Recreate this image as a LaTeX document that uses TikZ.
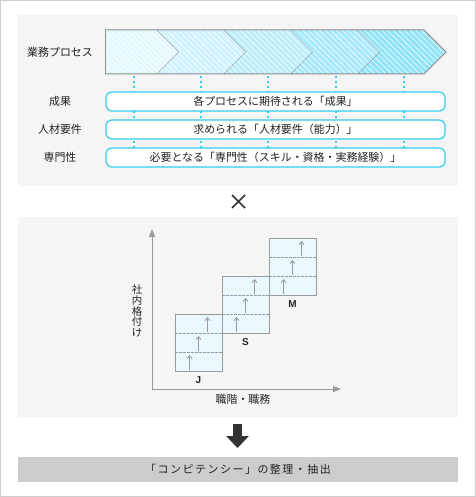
\documentclass[tikz,border=0pt]{standalone}
\usepackage{fontspec}
\setmainfont{Noto Sans CJK JP}
\newfontfamily\latinbold{Liberation Sans}
\usepackage{tikz}
\usetikzlibrary{arrows.meta}
\usetikzlibrary{patterns.meta}
\definecolor{frameline}{HTML}{CCCCCC}
\definecolor{panelfill}{HTML}{F5F5F5}
\definecolor{procline}{HTML}{8C8C8C}
\definecolor{procA}{HTML}{E2F8FD}
\definecolor{procB}{HTML}{CFF3FC}
\definecolor{procC}{HTML}{BBEEFB}
\definecolor{procD}{HTML}{A6E9FA}
\definecolor{procE}{HTML}{90E3F9}
\definecolor{rowline}{HTML}{33CCEE}
\definecolor{gradefill}{HTML}{E8F8FC}
\definecolor{gradeline}{HTML}{999999}
\definecolor{darkmark}{HTML}{333333}
\definecolor{textcol}{HTML}{222222}
\definecolor{barfill}{HTML}{CCCCCC}
\newcommand{\procstep}[4]{
  \fill[fill=#3, postaction={pattern={Lines[angle=-45,distance=4bp,line width=0.6bp]}, pattern color=white}] ( #1 , 30 ) -- ( #2 , 30 ) -- ( #2+22 , 52 ) -- ( #2 , 74 ) -- ( #1 , 74 ) -- ( #1+#4 , 52 ) -- cycle;
  \draw[draw=procline, line width=1bp] ( #1 , 30 ) -- ( #2 , 30 ) -- ( #2+22 , 52 ) -- ( #2 , 74 ) -- ( #1 , 74 );}
\newcommand{\grade}[4]{
  \draw[gradebox] ( #1 , #2 ) rectangle ( #1+47 , #2+57 );
  \draw[gradedash] ( #1 , #2+19 ) -- ( #1+47 , #2+19 );
  \draw[gradedash] ( #1 , #2+38 ) -- ( #1+47 , #2+38 );
  \draw[uparrow] ( #1+14.5 , #2+56 ) -- ( #1+14.5 , #2+41 );
  \draw[uparrow] ( #1+23.5 , #2+37 ) -- ( #1+23.5 , #2+22 );
  \draw[uparrow] ( #1+32.5 , #2+18 ) -- ( #1+32.5 , #2+3 );
  \node[gradelbl] (#4) at ( #1+23.5 , #2+66 ) {#3};}
\tikzset{
  lbl/.style={text=textcol, font=\fontsize{11}{13}\selectfont, inner sep=0pt},
  rowbox/.style={draw=rowline, line width=1.2bp, fill=white, rounded corners=6bp, minimum width=339bp, minimum height=19bp, inner sep=0pt, text=textcol, font=\fontsize{11}{13}\selectfont},
  dotline/.style={rowline, line width=2bp, dash pattern=on 2bp off 3bp},
  gradebox/.style={draw=gradeline, fill=gradefill, line width=0.8bp},
  gradedash/.style={gradeline, line width=0.8bp, dash pattern=on 2.5bp off 1.5bp},
  uparrow/.style={gradeline, line width=0.8bp, -{Straight Barb[length=3bp,width=5bp]}},
  gradelbl/.style={text=textcol, font=\latinbold\bfseries\fontsize{10}{12}\selectfont, inner sep=0pt},
  axis/.style={gradeline, line width=1bp, -{Triangle[length=8bp,width=6bp]}},
  bigarrow/.style={darkmark, line width=9bp, -{Triangle[length=12bp,width=22bp]}},
}
\begin{document}
\begin{tikzpicture}[x=1bp,y=-1bp]
        \useasboundingbox (0,0) rectangle (476,497);
        \draw[frameline, line width=1bp] (0.5,0.5) rectangle (475.5,496.5);

        % panel1
        \fill[panelfill] (18,15) rectangle (458,186);
        \procstep{105}{157}{procA}{0}
        \procstep{157}{224}{procB}{22}
        \procstep{224}{291}{procC}{22}
        \procstep{291}{358}{procD}{22}
        \procstep{358}{424}{procE}{22}
        \draw[draw=procline, line width=1bp] (105,30) -- (105,74);

        \coordinate (p1) at (134,76);  \coordinate (q1) at (134,148);
        \coordinate (p2) at (201,76);  \coordinate (q2) at (201,148);
        \coordinate (p3) at (268,76);  \coordinate (q3) at (268,148);
        \coordinate (p4) at (336,76);  \coordinate (q4) at (336,148);
        \coordinate (p5) at (404,76);  \coordinate (q5) at (404,148);
        \draw[dotline] (p1) -- (q1);
        \draw[dotline] (p2) -- (q2);
        \draw[dotline] (p3) -- (q3);
        \draw[dotline] (p4) -- (q4);
        \draw[dotline] (p5) -- (q5);

        \node[lbl] (proc) at (60,52) {業務プロセス};
        \node[lbl] (lblres) at (60,101.5) {成果};
        \node[lbl] (lblreq) at (60,129.5) {人材要件};
        \node[lbl] (lblspec) at (60,157.5) {専門性};
        \node[rowbox] (res) at (275.5,101.5) {各プロセスに期待される「成果」};
        \node[rowbox] (req) at (275.5,129.5) {求められる「人材要件（能力）」};
        \node[rowbox] (spec) at (275.5,157.5) {必要となる「専門性（スキル・資格・実務経験）」};

        % times
        \draw[darkmark, line width=1.6bp] (232,195) -- (245,208);
        \draw[darkmark, line width=1.6bp] (232,208) -- (245,195);

        % panel2
        \fill[panelfill] (18,217) rectangle (458,417);
        \coordinate (origin) at (152,389);
        \coordinate (ytip) at (152,229);
        \coordinate (xtip) at (341,389);
        \draw[axis] (origin) -- (ytip);
        \draw[axis] (origin) -- (xtip);
        \grade{175}{314}{J}{gj}
        \grade{222}{276}{S}{gs}
        \grade{269}{238}{M}{gm}
        \node[lbl, align=center, font=\fontsize{10.5}{10.8}\selectfont] (ylbl) at (137,311) {社\\内\\格\\付\\け};
        \node[lbl] (xlbl) at (243,399) {職階・職務};

        % result
        \coordinate (downtop) at (237.5,424);
        \coordinate (downtip) at (237.5,448);
        \draw[bigarrow] (downtop) -- (downtip);
        \node[fill=barfill, minimum width=440bp, minimum height=25bp, inner sep=0pt, text=textcol, font=\fontsize{11}{13}\selectfont\addfontfeature{LetterSpace=14}] (extract) at (238,469.5) {「コンピテンシー」の整理・抽出};
    \end{tikzpicture}
\end{document}
